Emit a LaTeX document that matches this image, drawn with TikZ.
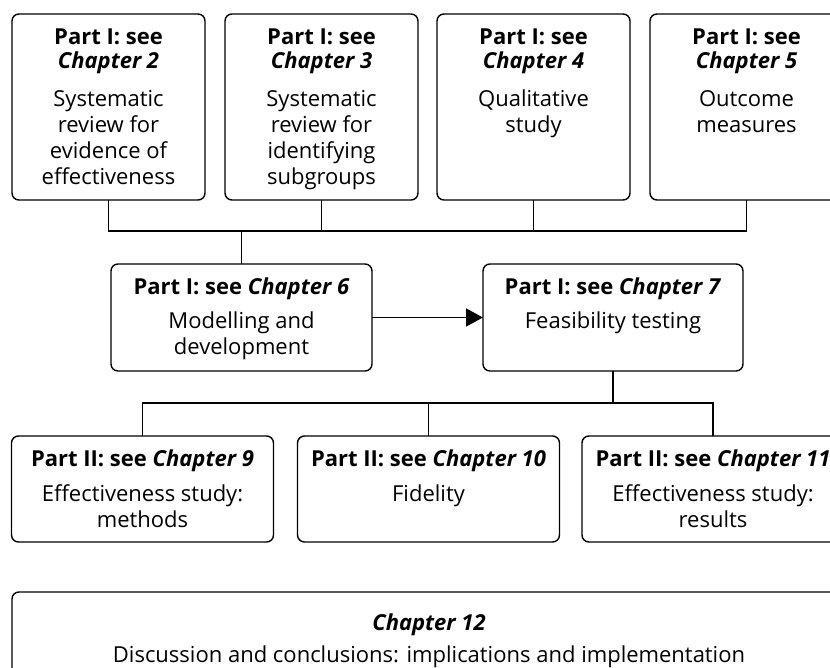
\documentclass[tikz,border=0pt]{standalone}
\usepackage{fontspec}
\setmainfont{Open Sans}
\usetikzlibrary{arrows.meta}
\setlength\parskip{0pt}
\setlength\parindent{0pt}
% #1 width, #2 height, #3 first baseline, #4 heading, #5 extra gap, #6 body
\newcommand\bxtext[6]{%
\begin{minipage}[c][#2][t]{#1}\centering
\fontsize{22}{24}\selectfont
\rule{0pt}{#3}\textbf{#4}\par
\vspace{#5}%
\fontsize{22}{26}\selectfont #6\par
\end{minipage}}
\begin{document}
\begin{tikzpicture}[x=1pt,y=-1pt,
  bx/.style={draw, line width=1.4pt, rounded corners=7pt, inner sep=0pt, outer sep=0pt},
  conn/.style={line width=1.4pt}]
\useasboundingbox (0,0) rectangle (830,668);
\clip (0,0) rectangle (830,668);
% top row
\node[bx] (b2) at (108.5,107) {\bxtext{193pt}{186pt}{31pt}{Part I: see\\\textit{Chapter 2}}{12pt}{Systematic\\review for\\evidence of\\effectiveness}};
\node[bx] (b3) at (321.5,107) {\bxtext{193pt}{186pt}{31pt}{Part I: see\\\textit{Chapter 3}}{12pt}{Systematic\\review for\\identifying\\subgroups}};
\node[bx] (b4) at (533.5,107) {\bxtext{193pt}{186pt}{31pt}{Part I: see\\\textit{Chapter 4}}{12pt}{Qualitative\\study}};
\node[bx] (b5) at (746.5,107) {\bxtext{193pt}{186pt}{31pt}{Part I: see\\\textit{Chapter 5}}{12pt}{Outcome\\measures}};
% middle row
\node[bx] (b6) at (241.5,317.5) {\bxtext{261pt}{107pt}{30pt}{Part I: see \textit{Chapter 6}}{8pt}{Modelling and\\development}};
\node[bx] (b7) at (613,317.5) {\bxtext{260pt}{107pt}{30pt}{Part I: see \textit{Chapter 7}}{8pt}{Feasibility testing}};
% bottom row
\node[bx] (b9) at (142.5,489) {\bxtext{262pt}{106pt}{30pt}{Part II: see \textit{Chapter 9}}{9pt}{Effectiveness study:\\methods}};
\node[bx] (b10) at (428.5,489) {\bxtext{262pt}{106pt}{30pt}{Part II: see \textit{Chapter 10}}{9pt}{Fidelity}};
\node[bx] (b11) at (713,489) {\bxtext{262pt}{106pt}{30pt}{Part II: see \textit{Chapter 11}}{9pt}{Effectiveness study:\\results}};
% final
\node[bx] (b12) at (429,642) {\bxtext{834pt}{100pt}{38pt}{\textit{Chapter 12}}{6pt}{Discussion and conclusions: implications and implementation}};
% connectors
\coordinate (busT) at (241.5,231);
\coordinate (busB) at (613,403);
\draw[conn] (b2.south) |- (busT) -| (b5.south);
\draw[conn] (b3.south) -- (b3.south |- busT);
\draw[conn] (b4.south) -- (b4.south |- busT);
\draw[conn] (busT) -- (b6.north);
\draw[conn, -{Triangle[length=17pt,width=18pt]}] (b6.east) -- (b7.west);
\draw[conn] (b7.south) -- (busB);
\draw[conn] (b9.north) |- (busB) -| (b11.north);
\draw[conn] (b10.north) -- (b10.north |- busB);
\end{tikzpicture}
\end{document}
